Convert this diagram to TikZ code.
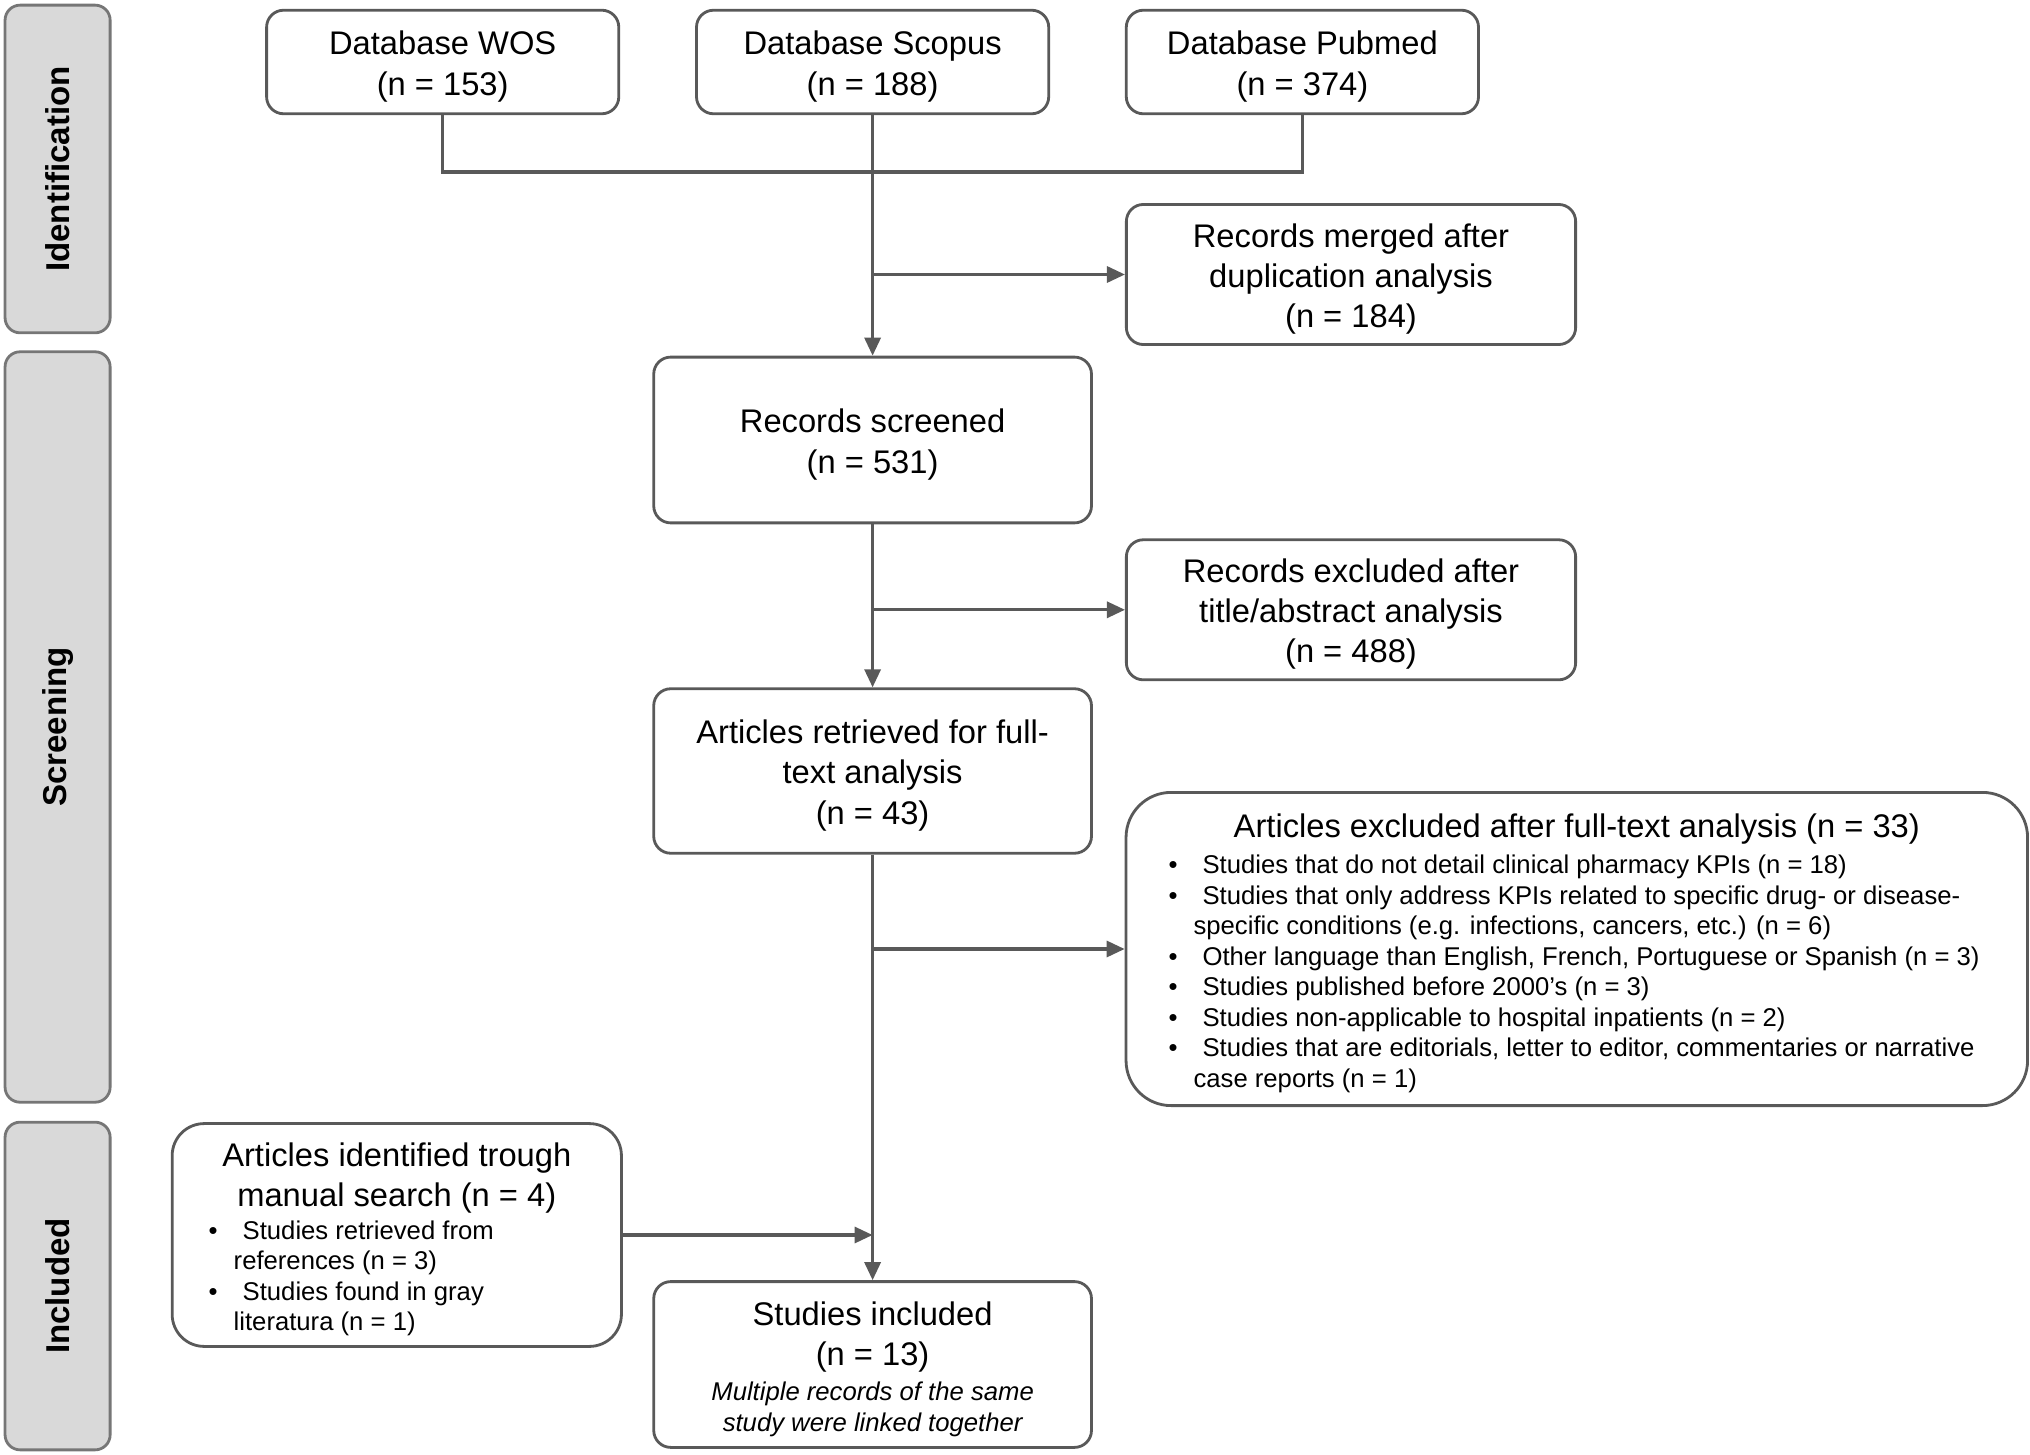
\documentclass[tikz,border=0pt]{standalone}
\usepackage{fontspec}
\setmainfont{Liberation Sans}
\usetikzlibrary{arrows.meta}
\definecolor{line_grey}{HTML}{595959}
\definecolor{bar_fill}{HTML}{D9D9D9}
\definecolor{bar_edge}{HTML}{767676}
\newcommand{\mainsize}{\fontsize{9.3}{11.4}\selectfont}
\newcommand{\listsize}{\fontsize{7.3}{8.7}\selectfont}
\newcommand{\blt}{\hspace*{0.22cm}\makebox[0.34cm][l]{\textbullet}}
\newcommand{\cont}{\hspace*{0.47cm}}
\newcommand{\boxpad}{\endgraf\vspace{-0.09cm}}
\tikzstyle{flow_box}=[rectangle,
                      draw=line_grey,
                      line width=0.8pt,
                      rounded corners=1.7mm,
                      align=flush center,
                      inner sep=0pt,
                      font=\mainsize,
                      execute at end node=\boxpad ]
\tikzstyle{phase_bar}=[rectangle,
                       draw=bar_edge,
                       fill=bar_fill,
                       line width=0.8pt,
                       rounded corners=1.5mm,
                       rotate=90,
                       minimum height=1.05cm,
                       font=\fontsize{9.4}{11}\selectfont\bfseries ]
\tikzstyle{flow_line}=[draw=line_grey, line width=0.9pt]
\tikzstyle{flow_arrow}=[flow_line, -{Triangle[length=1.8mm, width=1.6mm]}]

\begin{document}
\begin{tikzpicture}[x=0.01cm, y=-0.01cm]
    \useasboundingbox (0, 0) rectangle (2030, 1455);

    % phases
    \node at (57.6, 169) (IdBar) [phase_bar, minimum width=3.275cm] {Identification};
    \node at (57.6, 727) (ScrBar) [phase_bar, minimum width=7.5cm] {Screening};
    \node at (57.6, 1286) (IncBar) [phase_bar, minimum width=3.275cm] {Included};

    % databases
    \node at (442.7, 62) (WOS) [flow_box, minimum width=3.52cm, minimum height=1.035cm, text width=3.3cm] {Database WOS\\(n = 153)};
    \node at (872.6, 62) (Scopus) [flow_box, minimum width=3.52cm, minimum height=1.035cm, text width=3.3cm] {Database Scopus\\(n = 188)};
    \node at (1302.4, 62) (Pubmed) [flow_box, minimum width=3.52cm, minimum height=1.035cm, text width=3.3cm] {Database Pubmed\\(n = 374)};
    \coordinate (join) at (872.6, 172);

    \node at (1351, 274.5) (merged) [flow_box, minimum width=4.49cm, minimum height=1.40cm, text width=4.2cm] {Records merged after\\duplication analysis\\(n = 184)};
    \node at (872.6, 440) (screened) [flow_box, minimum width=4.375cm, minimum height=1.657cm, text width=4.1cm] {Records screened\\(n = 531)};
    \node at (1351, 609.8) (exclTitle) [flow_box, minimum width=4.49cm, minimum height=1.40cm, text width=4.2cm] {Records excluded after\\title/abstract analysis\\(n = 488)};
    \node at (872.6, 771) (retrieved) [flow_box, minimum width=4.375cm, minimum height=1.644cm, text width=4.1cm] {Articles retrieved for full-\\text analysis\\(n = 43)};

    \node at (1576.8, 949) (exclFull) [flow_box, rounded corners=4.5mm, minimum width=9.01cm, minimum height=3.13cm, text width=8.6cm, align=flush left] {%
        \makebox[\linewidth][c]{Articles excluded after full-text analysis (n = 33)}\par
        \vspace{0.05cm}\listsize
        \blt Studies that do not detail clinical pharmacy KPIs (n = 18)\\
        \blt Studies that only address KPIs related to specific drug- or disease-\\
        \cont specific conditions (e.g. infections, cancers, etc.) (n = 6)\\
        \blt Other language than English, French, Portuguese or Spanish (n = 3)\\
        \blt Studies published before 2000's (n = 3)\\
        \blt Studies non-applicable to hospital inpatients (n = 2)\\
        \blt Studies that are editorials, letter to editor, commentaries or narrative\\
        \cont case reports (n = 1)\par};

    \node at (396.8, 1235) (manual) [flow_box, rounded corners=3.2mm, minimum width=4.49cm, minimum height=2.227cm, text width=4.2cm, align=flush left] {%
        {\centering Articles identified trough\\manual search (n = 4)\par}
        \vspace{0.02cm}\listsize
        \blt Studies retrieved from\\
        \cont references (n = 3)\\
        \blt Studies found in gray\\
        \cont literatura (n = 1)\par};

    \node at (872.6, 1364.5) (included) [flow_box, minimum width=4.375cm, minimum height=1.657cm, text width=4.2cm] {%
        Studies included\\(n = 13)\par
        \vspace{0.05cm}{\listsize\itshape Multiple records of the same\\study were linked together\par}};

    % connectors
    \draw[flow_line] (WOS.south) |- (join) -| (Pubmed.south);
    \draw[flow_arrow] (Scopus.south) -- (screened.north);
    \draw[flow_arrow] (screened.north |- merged.west) -- (merged.west);
    \draw[flow_arrow] (screened.south) -- (retrieved.north);
    \draw[flow_arrow] (screened.south |- exclTitle.west) -- (exclTitle.west);
    \draw[flow_arrow] (retrieved.south) -- (included.north);
    \draw[flow_arrow] (retrieved.south |- exclFull.west) -- (exclFull.west);
    \draw[flow_arrow] (manual.east) -- (manual.east -| included.north);
\end{tikzpicture}
\end{document}
